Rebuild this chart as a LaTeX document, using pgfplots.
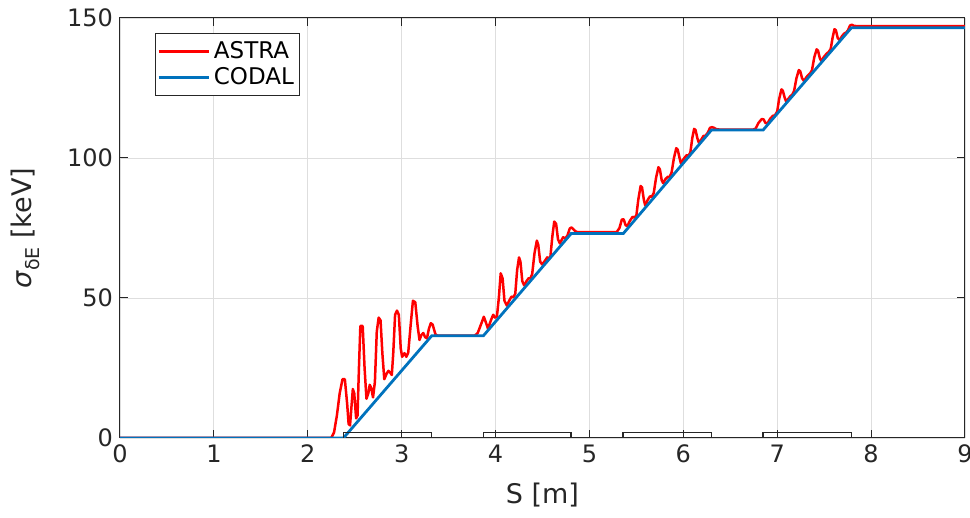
\documentclass[border=0pt]{standalone}
\usepackage{fontspec}
\setmainfont{DejaVu Sans}
\usepackage{pgfplots}
\pgfplotsset{compat=1.18}
\definecolor{mblue}{rgb}{0,0.447,0.741}
\definecolor{axgray}{rgb}{0.15,0.15,0.15}
\definecolor{gridgray}{rgb}{0.87,0.87,0.87}
\begin{document}
\begin{tikzpicture}
\useasboundingbox (-60pt,-40pt) rectangle (425pt,219pt);
\clip (-60pt,-40pt) rectangle (425pt,219pt);
\begin{axis}[
  width=422.5pt, height=210pt, scale only axis,
  xmin=0, xmax=9, ymin=0, ymax=150,
  xtick={0,1,...,9}, ytick={0,50,100,150},
  /pgf/number format/assume math mode=true,
  tick label style={font=\fontsize{12}{14}\selectfont, text=axgray},
  label style={font=\fontsize{13.5}{16}\selectfont, text=axgray},
  axis line style={axgray, line width=0.5pt},
  tick style={axgray, line width=0.5pt},
  major tick length=4.2pt,
  tick align=inside, tick pos=both,
  grid=major, major grid style={gridgray, line width=0.4pt},
  xlabel={S [m]},
  ylabel={{\itshape σ}\raisebox{-0.5ex}{\fontsize{9.5}{10}\selectfont δE} [keV]},
  xlabel style={at={(axis description cs:0.5,-0.135)}, anchor=center},
  ylabel style={at={(axis description cs:-0.112,0.5)}, anchor=center},
  legend style={at={(axis description cs:0.041,0.964)}, anchor=north west,
    draw=axgray, line width=0.5pt, fill=white, font=\fontsize{11.5}{13}\selectfont,
    inner xsep=1pt, inner ysep=2pt, row sep=-1pt},
  legend cell align=left,
  legend image code/.code={\draw[#1] (0pt,0pt) -- (25pt,0pt);},
]
\addplot[red, line width=1.25pt, line join=round] coordinates {
(0,0) (2.25,0) (2.28,2) (2.31,8) (2.34,16) (2.37,21) (2.395,21) (2.42,12) (2.435,5) (2.45,4.5)
(2.465,11) (2.48,17.5) (2.495,16) (2.515,7) (2.53,8) (2.545,25) (2.56,40) (2.585,40) (2.605,25)
(2.625,14) (2.645,16) (2.66,19) (2.675,18) (2.695,14.5) (2.715,20) (2.735,38) (2.755,43) (2.775,42)
(2.795,30) (2.815,21) (2.84,23) (2.86,24) (2.875,23.5) (2.895,22.5) (2.91,30) (2.93,44) (2.95,45.5)
(2.97,44) (2.99,32) (3.005,29) (3.03,30.3) (3.05,29) (3.07,30.5) (3.095,40) (3.12,49) (3.145,48.5)
(3.17,40) (3.19,35) (3.21,36.8) (3.23,37.5) (3.25,36) (3.27,35.6) (3.29,39) (3.31,41) (3.33,40.5)
(3.36,37) (3.38,36.6) (3.78,36.6)
(3.81,37.5) (3.85,41) (3.875,43.3) (3.90,41) (3.92,39) (3.95,42) (3.975,44) (3.995,43) (4.015,43.5)
(4.035,50) (4.055,58.8) (4.075,57) (4.095,49) (4.12,47.3) (4.145,49) (4.17,50.5) (4.19,50.3) (4.21,51.5)
(4.23,60) (4.25,64.5) (4.265,63) (4.285,56) (4.305,54.5) (4.33,56) (4.35,57) (4.37,57) (4.39,58.5)
(4.415,66) (4.44,70.5) (4.455,69) (4.475,63) (4.495,62) (4.52,63) (4.55,64.5) (4.57,64) (4.585,65)
(4.605,72) (4.625,77.3) (4.645,76.5) (4.665,71) (4.685,69.5) (4.70,70.5) (4.72,71.7) (4.74,71.3) (4.765,72.2)
(4.79,74.8) (4.81,75.2) (4.83,74.5) (4.86,73.6) (4.90,73.5) (5.29,73.5)
(5.32,75) (5.345,78) (5.365,78.1) (5.385,76) (5.405,75.7) (5.43,77.5) (5.46,79) (5.48,78.7) (5.50,79.5)
(5.52,85) (5.545,90) (5.56,89.5) (5.58,85) (5.595,83) (5.62,85) (5.645,86.3) (5.665,86.2) (5.685,87.5)
(5.71,93) (5.735,96.7) (5.75,96) (5.77,92) (5.785,91) (5.81,92.5) (5.835,93.3) (5.855,93.3) (5.875,94.8)
(5.90,100) (5.925,103.5) (5.94,103) (5.96,100) (5.975,98) (6.00,99.5) (6.035,101) (6.055,100.8)
(6.075,102) (6.095,107) (6.115,110.4) (6.13,110) (6.15,107) (6.165,105.5) (6.19,106.5) (6.215,107.9)
(6.235,107.9) (6.26,109) (6.285,110.8) (6.305,111) (6.325,110.8) (6.35,110.3) (6.40,110.1) (6.74,110.1)
(6.77,110.5) (6.80,112.5) (6.835,113.9) (6.855,113.8) (6.875,112.5) (6.895,112.3) (6.925,114) (6.955,115.1)
(6.975,115.2) (7.00,116.6) (7.02,121) (7.045,124.5) (7.06,124) (7.08,121.5) (7.095,120.2) (7.12,121.2)
(7.14,122.1) (7.16,122.6) (7.18,124) (7.205,128.5) (7.23,131.4) (7.245,131) (7.265,128.5) (7.285,127.5)
(7.31,128.8) (7.33,129.6) (7.35,130.2) (7.37,131.3) (7.395,136) (7.42,138.8) (7.435,138.3) (7.455,135.5)
(7.47,134.7) (7.50,136.2) (7.53,137.4) (7.55,137.9) (7.57,139) (7.59,143) (7.61,146) (7.625,145.6)
(7.645,142.8) (7.665,142.1) (7.69,143.5) (7.715,144.5) (7.735,144.8) (7.755,145.7) (7.775,147.3)
(7.795,147.6) (7.815,147.2) (7.85,147.1) (9,147.1)
};
\addlegendentry{ASTRA}
\addplot[mblue, line width=1.4pt] coordinates {
(0,0) (2.38,0) (3.32,36.5) (3.87,36.5) (4.805,73) (5.36,73) (6.30,110) (6.85,110) (7.79,146.5) (9,146.5)
};
\addlegendentry{CODAL}
\addplot[black!85, line width=0.75pt, forget plot] coordinates {
(2.38,0) (2.38,1.9) (3.32,1.9) (3.32,0)
};
\addplot[black!85, line width=0.75pt, forget plot] coordinates {
(3.87,0) (3.87,1.9) (4.805,1.9) (4.805,0)
};
\addplot[black!85, line width=0.75pt, forget plot] coordinates {
(5.36,0) (5.36,1.9) (6.30,1.9) (6.30,0)
};
\addplot[black!85, line width=0.75pt, forget plot] coordinates {
(6.85,0) (6.85,1.9) (7.79,1.9) (7.79,0)
};
\end{axis}
\end{tikzpicture}
\end{document}
